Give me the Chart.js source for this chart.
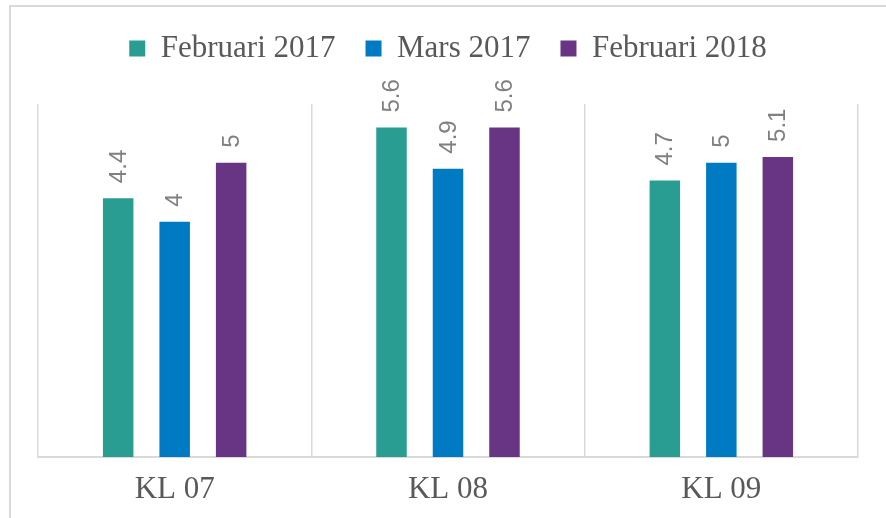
<!DOCTYPE html>
<html>
<head>
<meta charset="utf-8">
<script src="https://cdn.jsdelivr.net/npm/chart.js@4.4.0/dist/chart.umd.min.js"></script>
<style>
	html, body { margin: 0; padding: 0; background: #fff; overflow: hidden; }
	#wrap { position: relative; width: 886px; height: 518px; }
	#frame {
		position: absolute; left: 9px; top: 5px; width: 2000px; height: 2000px;
		border-left: 2px solid #d9d9d9; border-top: 2px solid #d9d9d9;
	}
	canvas { position: absolute; left: 0; top: 0; }
</style>
</head>
<body>
<div id="wrap">
	<div id="frame"></div>
	<canvas id="chart" width="886" height="518"></canvas>
</div>
<script>
const categories = ["KL 07", "KL 08", "KL 09"];
const seriesNames = ["Februari 2017", "Mars 2017", "Februari 2018"];
const feb2017 = [4.4, 5.6, 4.7];
const mars2017 = [4, 4.9, 5];
const feb2018 = [5, 5.6, 5.1];
const colors = ["#299D91", "#007BC3", "#673584"];

// values written vertically above each bar
const barLabels = {
	id: "barLabels",
	afterDatasetsDraw: function (chart) {
		const ctx = chart.ctx;
		ctx.save();
		ctx.font = "24px 'Liberation Sans', Arial, sans-serif";
		ctx.fillStyle = "#808080";
		ctx.textAlign = "left";
		ctx.textBaseline = "middle";
		chart.data.datasets.forEach(function (ds, i) {
			const meta = chart.getDatasetMeta(i);
			meta.data.forEach(function (bar, j) {
				ctx.save();
				ctx.translate(bar.x + 1, bar.y - 15);
				ctx.rotate(-Math.PI / 2);
				ctx.fillText(String(ds.data[j]), 0, 0);
				ctx.restore();
			});
		});
		ctx.restore();
	},
};

// more room under the legend
const legendGap = {
	id: "legendGap",
	beforeInit: function (chart) {
		if (!chart.legend) return;
		const fit = chart.legend.fit;
		chart.legend.fit = function () {
			fit.bind(chart.legend)();
			this.height += 30;
		};
	},
};

const seriesData = [feb2017, mars2017, feb2018];

const config = {
	type: "bar",
	data: {
		labels: categories,
		datasets: seriesNames.map(function (name, i) {
			return {
				label: name,
				data: seriesData[i],
				backgroundColor: colors[i],
				borderWidth: 0,
				categoryPercentage: 0.62,
				barPercentage: 0.54,
			};
		}),
	},
	options: {
		responsive: false,
		animation: false,
		layout: {
			padding: { left: 38, right: 28, top: 3, bottom: 0 },
		},
		scales: {
			x: {
				grid: {
					color: "#d9d9d9",
					lineWidth: 1.5,
					drawTicks: false,
					offset: true,
				},
				border: { color: "#d9d9d9", width: 2 },
				ticks: {
					color: "#595959",
					padding: 14,
					font: { family: "'Liberation Serif', 'Times New Roman', serif", size: 31 },
				},
				afterFit: function (scale) {
					scale.height = 61;
				},
			},
			y: {
				display: false,
				min: 0,
				max: 6,
			},
		},
		plugins: {
			legend: {
				position: "top",
				labels: {
					color: "#595959",
					boxWidth: 16,
					boxHeight: 16,
					padding: 30,
					font: { family: "'Liberation Serif', 'Times New Roman', serif", size: 31 },
				},
			},
			tooltip: { enabled: false },
		},
	},
	plugins: [legendGap, barLabels],
};

const ctx = document.getElementById("chart").getContext("2d");
const myChart = new Chart(ctx, config);
</script>
</body>
</html>
